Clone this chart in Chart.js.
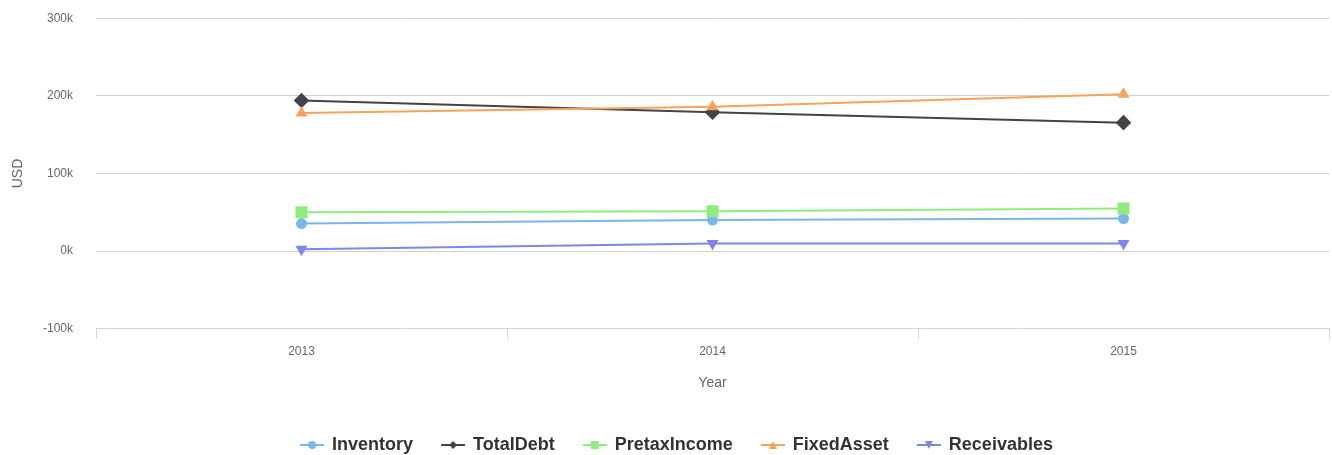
<!DOCTYPE html>
<html>
<head>
<meta charset="utf-8">
<script src="https://cdn.jsdelivr.net/npm/chart.js@4/dist/chart.umd.min.js"></script>
<style>
  html, body { margin: 0; padding: 0; background: #fff; }
  #wrap { width: 1332px; height: 455px; position: relative; }
</style>
</head>
<body>
<div id="wrap"><canvas id="chart"></canvas></div>
<script>
// data
const years        = ['2013', '2014', '2015'];
const inventory    = [35500, 40000, 42000];
const totalDebt    = [194000, 179000, 165500];
const pretaxIncome = [50000, 51500, 55000];
const fixedAsset   = [178000, 186000, 202000];
const receivables  = [2600, 10000, 10000];
const yTickValues  = [-100000, 0, 100000, 200000, 300000];

const FONT = '"Liberation Sans", Arial, Helvetica, sans-serif';

// small canvas with a line and a marker, used as legend symbol
function legendSymbol(color, shape) {
    const W = 43, H = 14, L = 24;
    const c = document.createElement('canvas');
    c.width = W; c.height = H;
    const g = c.getContext('2d');
    const cx = W - L / 2, cy = H / 2;
    g.strokeStyle = color;
    g.lineWidth = 2;
    g.beginPath();
    g.moveTo(W - L, cy);
    g.lineTo(W, cy);
    g.stroke();
    g.fillStyle = color;
    g.beginPath();
    const r = 4;
    if (shape === 'circle') {
        g.arc(cx, cy, r, 0, Math.PI * 2);
    } else if (shape === 'diamond') {
        g.moveTo(cx, cy - r); g.lineTo(cx + r, cy); g.lineTo(cx, cy + r); g.lineTo(cx - r, cy);
    } else if (shape === 'square') {
        g.rect(cx - r, cy - r, 2 * r, 2 * r);
    } else if (shape === 'triangle') {
        g.moveTo(cx, cy - r); g.lineTo(cx + r, cy + r); g.lineTo(cx - r, cy + r);
    } else if (shape === 'triangleDown') {
        g.moveTo(cx - r, cy - r); g.lineTo(cx + r, cy - r); g.lineTo(cx, cy + r);
    }
    g.closePath();
    g.fill();
    return c;
}

const series = [
    { label: 'Inventory',    data: inventory,    color: '#7cb5ec', style: 'circle',   radius: 5.5, rot: 0,   sym: 'circle' },
    { label: 'TotalDebt',    data: totalDebt,    color: '#434348', style: 'rectRot',  radius: 7.8, rot: 0,   sym: 'diamond' },
    { label: 'PretaxIncome', data: pretaxIncome, color: '#90ed7d', style: 'rect',     radius: 8.5, rot: 0,   sym: 'square' },
    { label: 'FixedAsset',   data: fixedAsset,   color: '#f7a35c', style: 'triangle', radius: 7,   rot: 0,   sym: 'triangle' },
    { label: 'Receivables',  data: receivables,  color: '#8085e9', style: 'triangle', radius: 7,   rot: 180, sym: 'triangleDown' }
];
const symbols = series.map(s => legendSymbol(s.color, s.sym));

const ctx = document.getElementById('chart').getContext('2d');
new Chart(ctx, {
    type: 'line',
    data: {
        labels: years,
        datasets: series.map((s, i) => ({
            label: s.label,
            data: s.data,
            order: series.length - i,   // later series on top
            borderColor: s.color,
            backgroundColor: s.color,
            borderWidth: 2,
            pointStyle: s.style,
            pointRadius: s.radius,
            pointHoverRadius: s.radius,
            pointRotation: s.rot,
            pointBorderWidth: 0,
            tension: 0
        }))
    },
    options: {
        responsive: true,
        maintainAspectRatio: false,
        animation: false,
        layout: { autoPadding: false, padding: { left: 6, right: 3, top: 1, bottom: -9 } },
        plugins: {
            tooltip: { enabled: false },
            legend: {
                position: 'bottom',
                labels: {
                    usePointStyle: true,
                    pointStyleWidth: 41,
                    padding: 10,
                    color: '#333333',
                    font: { family: FONT, size: 18, weight: 'bold' },
                    generateLabels: chart =>
                        Chart.defaults.plugins.legend.labels.generateLabels(chart)
                            .sort((a, b) => a.datasetIndex - b.datasetIndex)
                            .map(l => ({ ...l, pointStyle: symbols[l.datasetIndex], rotation: 0 }))
                }
            }
        },
        scales: {
            x: {
                type: 'category',
                offset: true,
                grid: {
                    offset: true,
                    drawOnChartArea: false,
                    tickLength: 10,
                    color: '#ccd6eb'
                },
                border: { color: '#ccd6eb', width: 1 },
                ticks: { color: '#666666', padding: 6, font: { family: FONT, size: 12 } },
                title: {
                    display: true,
                    text: 'Year',
                    color: '#666666',
                    font: { family: FONT, size: 14 },
                    padding: { top: 10, bottom: 34 }
                }
            },
            y: {
                min: -100000,
                max: 300000,
                afterBuildTicks: axis => { axis.ticks = yTickValues.map(v => ({ value: v })); },
                afterFit: axis => { axis.width = 90; },
                grid: {
                    drawTicks: true,
                    tickLength: 12,
                    tickColor: 'rgba(0,0,0,0)',
                    color: c => c.tick && c.tick.value === -100000 ? 'rgba(0,0,0,0)' : '#d0d0d0'
                },
                border: { display: false },
                ticks: {
                    color: '#666666',
                    padding: 11,
                    font: { family: FONT, size: 12 },
                    callback: v => (v / 1000) + 'k'
                },
                title: {
                    display: true,
                    text: 'USD',
                    color: '#666666',
                    font: { family: FONT, size: 14 },
                    padding: { top: 4, bottom: 4 }
                }
            }
        }
    }
});
</script>
</body>
</html>
